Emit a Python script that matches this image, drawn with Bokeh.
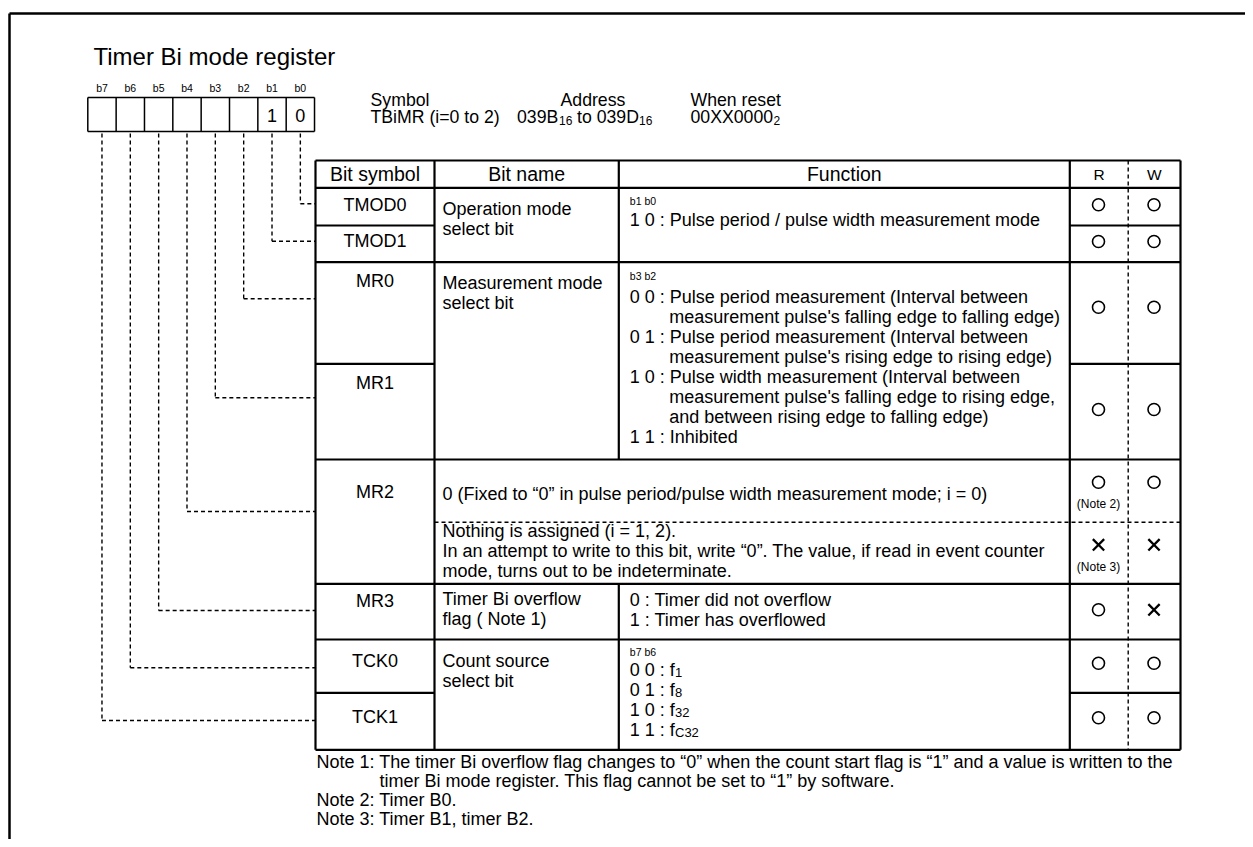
from bokeh.plotting import figure
from bokeh.models import Range1d, ColumnDataSource
from bokeh.core.properties import value
from bokeh.embed import file_html
from bokeh.resources import INLINE

# ---------------- content ----------------
title = "Timer Bi mode register"
bit_labels = ["b7", "b6", "b5", "b4", "b3", "b2", "b1", "b0"]
bit_values = ["", "", "", "", "", "", "1", "0"]

header_cols = ["Bit symbol", "Bit name", "Function", "R", "W"]

# bit symbol -> bit index (0 = b0)
symbols = ["TMOD0", "TMOD1", "MR0", "MR1", "MR2", "MR3", "TCK0", "TCK1"]
symbol_bits = [0, 1, 2, 3, 4, 5, 6, 7]

bitname_lines = [["Operation mode", "select bit"],
                 ["Measurement mode", "select bit"],
                 ["Timer Bi overflow", "flag ( Note 1)"],
                 ["Count source", "select bit"]]

func_tmod_hdr = "b1 b0"
func_tmod = ["1 0 : Pulse period / pulse width measurement mode"]
func_mr_hdr = "b3 b2"
func_mr = [("0 0 : Pulse period measurement (Interval between", 0),
           ("measurement pulse's falling edge to falling edge)", 1),
           ("0 1 : Pulse period measurement (Interval between", 0),
           ("measurement pulse's rising edge to rising edge)", 1),
           ("1 0 : Pulse width measurement (Interval between", 0),
           ("measurement pulse's falling edge to rising edge,", 1),
           ("and between rising edge to falling edge)", 1),
           ("1 1 : Inhibited", 0)]
func_mr2_a = "0 (Fixed to \u201c0\u201d in pulse period/pulse width measurement mode; i = 0)"
func_mr2_b = ["Nothing is assigned (i = 1, 2).",
              "In an attempt to write to this bit, write \u201c0\u201d. The value, if read in event counter",
              "mode, turns out to be indeterminate."]
func_mr3 = ["0 : Timer did not overflow", "1 : Timer has overflowed"]
func_tck_hdr = "b7 b6"
func_tck = [("0 0 : f", "1"), ("0 1 : f", "8"), ("1 0 : f", "32"), ("1 1 : f", "C32")]

# R / W marks per row: TMOD0, TMOD1, MR0, MR1, MR2(i=0), MR2(i=1,2), MR3, TCK0, TCK1
rw_read = ["O", "O", "O", "O", "O", "X", "O", "O", "O"]
rw_write = ["O", "O", "O", "O", "O", "X", "X", "O", "O"]
rw_notes = ["", "", "", "", "(Note 2)", "(Note 3)", "", "", ""]

notes = [("Note 1: The timer Bi overflow flag changes to \u201c0\u201d when the count start flag is \u201c1\u201d and a value is written to the", 0),
         ("timer Bi mode register.  This flag cannot be set to \u201c1\u201d by software.", 1),
         ("Note 2: Timer B0.", 0),
         ("Note 3: Timer B1, timer B2.", 0)]

info_labels = ["Symbol", "Address", "When reset"]

# ---------------- layout (reference pixel coordinates) ----------------
W, H = 1245, 839
FONT = "Liberation Sans"
BODY = "18px"

p = figure(width=W, height=H, x_range=Range1d(0, W), y_range=Range1d(H, 0),
           output_backend="svg", toolbar_location=None, min_border=0,
           x_axis_location=None, y_axis_location=None)
p.grid.visible = False
p.outline_line_color = None
p.background_fill_color = "white"
p.border_fill_color = "white"

texts = {"left": [], "center": []}


def txt(x, y, s, size, align="left"):
    texts[align].append((x, y, s, size))


solid, dashed = [], []


def seg(x0, y0, x1, y1, kind="solid"):
    (solid if kind == "solid" else dashed).append((x0, y0, x1, y1))


# frame
frame = [(9, 13, W, 13), (9, 13, 9, H)]

# title
txt(93, 55.5, title, "24px")

# bit boxes
bx0, bw, by0, by1 = 87.3, 28.34, 97, 131
for i, (lab, val) in enumerate(zip(bit_labels, bit_values)):
    cx = bx0 + bw * (i + 0.5)
    txt(cx, 87, lab, "10.5px", "center")
    if val:
        txt(cx, 114.5, val, "18px", "center")
box_lines = []
for i in range(9):
    x = bx0 + bw * i
    box_lines.append((x, by0, x, by1))
box_lines += [(bx0, by0, bx0 + 8 * bw, by0), (bx0, by1, bx0 + 8 * bw, by1)]

# register info
INFO = "17.7px"
SUB = "12px"
txt(370, 99, info_labels[0], INFO)
txt(370, 116.5, "TBiMR (i=0 to 2)", INFO)
txt(560, 99, info_labels[1], INFO)
txt(516.5, 116.5, "039B", INFO)
txt(558.5, 119.5, "16", SUB)
txt(576.5, 116.5, "to 039D", INFO)
txt(638.5, 119.5, "16", SUB)
txt(690, 99, info_labels[2], INFO)
txt(690, 116.5, "00XX0000", INFO)
txt(773, 119.5, "2", SUB)

# table geometry
XL, XC1, XC2, XR, XRW, XE = 315, 434, 618.3, 1069.3, 1127.7, 1180
YT, YH = 160, 187.3
y_tmod_div, y_mr, y_mr_div, y_mr2, y_mr2_div, y_mr3, y_tck, y_tck_div, YB = 225, 261.7, 363.3, 459, 521.7, 583.3, 639, 692.3, 749.3

# dashed leader lines from bits to table rows
turn_y = [203.3, 240.7, 298.3, 397.3, 511, 610, 667.3, 720]
for b, ty in zip(symbol_bits, turn_y):
    cx = bx0 + bw * (7 - b + 0.5)
    seg(cx, 133, cx, ty, "dashed")
    seg(cx, ty, XL, ty, "dashed")

# horizontal lines
for y in [YT, YH, y_mr, y_mr2, y_mr3, y_tck, YB]:
    seg(XL, y, XE, y)
for y in [y_tmod_div, y_mr_div, y_tck_div]:
    seg(XL, y, XC1, y)
    seg(XR, y, XE, y)
seg(XC1, y_mr2_div, XE, y_mr2_div, "dashed")
# vertical lines
for x in [XL, XC1, XR, XE]:
    seg(x, YT, x, YB)
seg(XC2, YT, XC2, y_mr2)
seg(XC2, y_mr3, XC2, YB)
seg(XRW, YT, XRW, YB, "dashed")

# header
hy = 173.5
txt((XL + XC1) / 2, hy, header_cols[0], "19.5px", "center")
txt((XC1 + XC2) / 2, hy, header_cols[1], "19.5px", "center")
txt((XC2 + XR) / 2, hy, header_cols[2], "19.5px", "center")
txt((XR + XRW) / 2, hy, header_cols[3], "15.5px", "center")
txt((XRW + XE) / 2, hy, header_cols[4], "15.5px", "center")

# bit symbols
sym_y = [204, 240.5, 280, 382.3, 491.7, 600, 660, 716.7]
for s, y in zip(symbols, sym_y):
    txt((XL + XC1) / 2, y, s, BODY, "center")

# bit names
BX = 442
for lines, y0 in zip(bitname_lines, [208.3, 282.3, 598.3, 660]):
    for k, s in enumerate(lines):
        txt(BX, y0 + 20.3 * k, s, BODY)

# functions
FX = 629.3
txt(FX, 200, func_tmod_hdr, "10.5px")
txt(FX, 219, func_tmod[0], BODY)
txt(FX, 275, func_mr_hdr, "10.5px")
for k, (s, ind) in enumerate(func_mr):
    txt(FX + (39.5 if ind else 0), 296.7 + 20 * k, s, BODY)
txt(BX, 493.3, func_mr2_a, BODY)
for k, s in enumerate(func_mr2_b):
    txt(BX, 530.7 + 20 * k, s, BODY)
for k, s in enumerate(func_mr3):
    txt(FX, 599.3 + 20 * k, s, BODY)
txt(FX, 651, func_tck_hdr, "10.5px")
for k, (s, sub) in enumerate(func_tck):
    txt(FX, 669.3 + 20 * k, s, BODY)
    txt(674.5, 672.3 + 20 * k, sub, "13px")

# R / W marks
rw_y = [204.3, 241, 306.7, 409, 481.7, 544.3, 609.3, 662.7, 717.3]
RX, WX = 1098, 1153.5
ox, oy, xx, xy = [], [], [], []
for y, r, w, n in zip(rw_y, rw_read, rw_write, rw_notes):
    for x, m in ((RX, r), (WX, w)):
        if m == "O":
            ox.append(x); oy.append(y)
        else:
            xx.append(x); xy.append(y)
    if n:
        txt(RX, y + 22, n, "12px", "center")

# notes
NOTE = 18
for k, (s, ind) in enumerate(notes):
    txt(316 + (3.5 * NOTE if ind else 0), 761 + 19 * k, s, f"{NOTE}px")

# ---------------- draw ----------------
fx0, fy0, fx1, fy1 = zip(*frame)
p.segment(fx0, fy0, fx1, fy1, line_color="black", line_width=2.5)
bl = list(zip(*box_lines))
p.segment(bl[0], bl[1], bl[2], bl[3], line_color="black", line_width=1.5)
sl = list(zip(*solid))
p.segment(sl[0], sl[1], sl[2], sl[3], line_color="black", line_width=2.2)
dl = list(zip(*dashed))
p.segment(dl[0], dl[1], dl[2], dl[3], line_color="black", line_width=1.4, line_dash="4 3")

p.scatter(ox, oy, marker="circle", size=12, fill_color=None, line_color="black", line_width=1.6)
p.scatter(xx, xy, marker="x", size=16, line_color="black", line_width=2.3)

for align, items in texts.items():
    xs, ys, ss, fs = zip(*items)
    src = ColumnDataSource(dict(x=list(xs), y=list(ys), text=list(ss), size=list(fs)))
    p.text(x="x", y="y", text="text", source=src, text_font=value(FONT),
           text_font_size="size", text_align=align, text_baseline="middle",
           text_color="black")

open("out.html", "w").write(file_html(p, INLINE))
